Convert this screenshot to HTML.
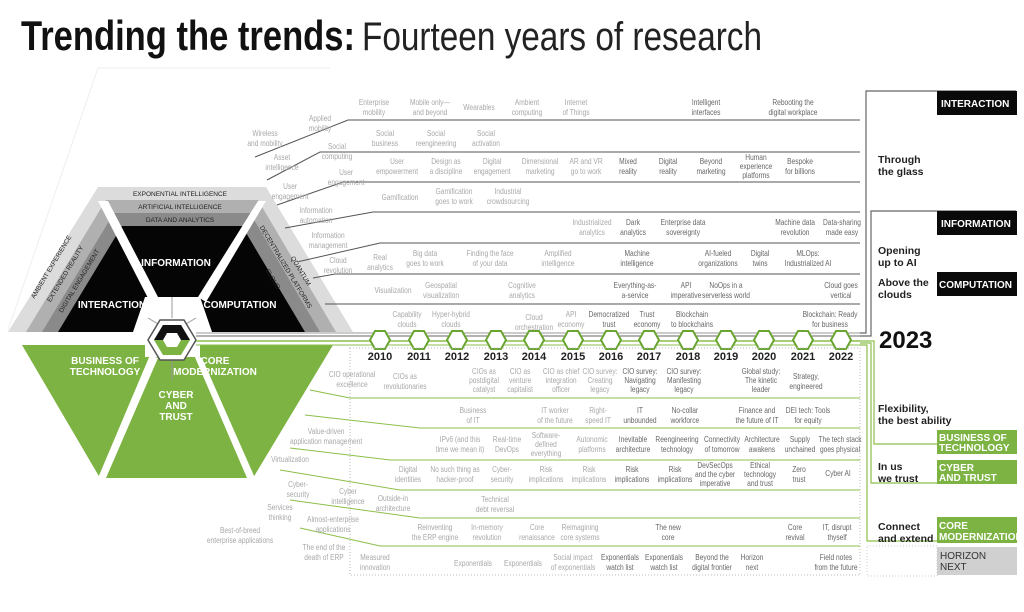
<!DOCTYPE html>
<html><head><meta charset="utf-8"><style>
html,body{margin:0;padding:0;background:#fff;}
svg{display:block;font-family:"Liberation Sans",sans-serif;}
.l,.d{font-size:8.3px;text-anchor:middle;transform-box:fill-box;transform-origin:center;transform:scaleX(0.8);}
.l{fill:#a8a8a8;}
.d{fill:#666;}
.ln{stroke:#555;stroke-width:1;fill:none;}
.gl{stroke:#8cbf4a;stroke-width:1;fill:none;}
.yr{font-weight:bold;font-size:11px;fill:#222;text-anchor:middle;}
.rb{font-weight:bold;font-size:10.5px;fill:#222;}
.bx{font-weight:bold;font-size:10px;fill:#fff;}
.hw{font-weight:bold;font-size:10px;fill:#fff;text-anchor:middle;}
.band{font-size:6.5px;fill:#222;text-anchor:middle;}
</style></head><body>
<svg width="1024" height="612" viewBox="0 0 1024 612" xmlns="http://www.w3.org/2000/svg">
<rect width="1024" height="612" fill="#fff"/>
<text x="21" y="50" font-weight="bold" font-size="42" fill="#111" textLength="334" lengthAdjust="spacingAndGlyphs">Trending the trends:</text>
<text x="362" y="50" font-size="40" fill="#222" textLength="400" lengthAdjust="spacingAndGlyphs">Fourteen years of research</text>
<polyline points="8,330 98,68 330,68" fill="none" stroke="#eee" stroke-width="1"/>

<polygon points="8,332 98,187 266,187 353,332" fill="#dcdcdc"/>
<polygon points="26,332 106,200 258,200 336,332" fill="#b0b0b0"/>
<polygon points="42,332 114,213 250,213 320,332" fill="#8a8a8a"/>
<polygon points="58,332 122,226 242,226 305,332" fill="#050505"/>
<polygon points="98,201 108,201 158,297 150,302" fill="#fff"/>
<polygon points="258,201 266,201 206,302 198,297" fill="#fff"/>
<polygon points="145,297 200,297 212,332 133,332" fill="#fff"/>
<line x1="172" y1="297" x2="172" y2="318" stroke="#999" stroke-width="1"/>
<line x1="148" y1="318" x2="158" y2="324" stroke="#999"/>
<line x1="196" y1="318" x2="186" y2="324" stroke="#999"/>
<text class="band" x="180" y="196">EXPONENTIAL INTELLIGENCE</text>
<text class="band" x="180" y="209">ARTIFICIAL INTELLIGENCE</text>
<text class="band" x="180" y="222">DATA AND ANALYTICS</text>
<text class="band" transform="translate(53,268) rotate(-59)">AMBIENT EXPERIENCE</text>
<text class="band" transform="translate(67,275) rotate(-59)">EXTENDED REALITY</text>
<text class="band" transform="translate(81,282) rotate(-59)">DIGITAL ENGAGEMENT</text>
<text class="band" transform="translate(299,272) rotate(59)">QUANTUM</text>
<text class="band" transform="translate(284,268) rotate(59)">DECENTRALIZED PLATFORMS</text>
<text class="band" transform="translate(271,280) rotate(59)">CLOUD</text>
<text class="hw" x="176" y="266">INFORMATION</text>
<text class="hw" x="112" y="308">INTERACTION</text>
<text class="hw" x="240" y="308">COMPUTATION</text>
<polygon points="22,345 333,345 253,478 100,478" fill="#7cb342"/>
<polygon points="150,355 158,358 106,478 98,478" fill="#fff"/>
<polygon points="194,355 202,358 255,478 247,478" fill="#fff"/>
<polygon points="145,345 200,345 200,357 145,357" fill="#fff"/>
<line x1="172" y1="360" x2="172" y2="380" stroke="#999"/>
<text class="hw" x="105" y="364">BUSINESS OF</text><text class="hw" x="105" y="375">TECHNOLOGY</text>
<text class="hw" x="215" y="364" text-anchor="start">CORE</text><text class="hw" x="215" y="375" text-anchor="start">MODERNIZATION</text>
<text class="hw" x="176" y="398">CYBER</text><text class="hw" x="176" y="409">AND</text><text class="hw" x="176" y="420">TRUST</text>
<polygon points="160,320 184,320 196,340 184,360 160,360 148,340" fill="#fff" stroke="#555" stroke-width="1.5"/>
<polygon points="163,325 181,325 190,340 181,355 163,355 154,340" fill="#7cb342"/>
<polygon points="163,325 181,325 190,340 154,340" fill="#111"/>
<polygon points="167,333 177,333 181,340 177,347 167,347 163,340" fill="#fff"/>

<line x1="196" y1="333" x2="860" y2="333" stroke="#999" stroke-width="1"/>
<line x1="196" y1="336" x2="860" y2="336" stroke="#666" stroke-width="1"/>
<line x1="196" y1="341" x2="860" y2="341" stroke="#8cbf4a" stroke-width="1.5"/>
<line x1="196" y1="345" x2="860" y2="345" stroke="#8cbf4a" stroke-width="1"/>
<g fill="#fff" stroke="#6aa531" stroke-width="2">
<polygon points="375,331 385,331 390,340 385,349 375,349 370,340"/>
<polygon points="414,331 424,331 429,340 424,349 414,349 409,340"/>
<polygon points="452,331 462,331 467,340 462,349 452,349 447,340"/>
<polygon points="491,331 501,331 506,340 501,349 491,349 486,340"/>
<polygon points="529,331 539,331 544,340 539,349 529,349 524,340"/>
<polygon points="568,331 578,331 583,340 578,349 568,349 563,340"/>
<polygon points="606,331 616,331 621,340 616,349 606,349 601,340"/>
<polygon points="644,331 654,331 659,340 654,349 644,349 639,340"/>
<polygon points="683,331 693,331 698,340 693,349 683,349 678,340"/>
<polygon points="721,331 731,331 736,340 731,349 721,349 716,340"/>
<polygon points="759,331 769,331 774,340 769,349 759,349 754,340"/>
<polygon points="798,331 808,331 813,340 808,349 798,349 793,340"/>
<polygon points="836,331 846,331 851,340 846,349 836,349 831,340"/>
</g>
<text class="yr" x="380" y="360">2010</text><text class="yr" x="419" y="360">2011</text><text class="yr" x="457" y="360">2012</text><text class="yr" x="496" y="360">2013</text><text class="yr" x="534" y="360">2014</text><text class="yr" x="573" y="360">2015</text><text class="yr" x="611" y="360">2016</text><text class="yr" x="649" y="360">2017</text><text class="yr" x="688" y="360">2018</text><text class="yr" x="726" y="360">2019</text><text class="yr" x="764" y="360">2020</text><text class="yr" x="803" y="360">2021</text><text class="yr" x="841" y="360">2022</text>

<polyline class="ln" points="255,157 348,120 860,120"/>
<polyline class="ln" points="267,180 320,152 860,152"/>
<polyline class="ln" points="277,205 343,182 860,182"/>
<polyline class="ln" points="285,228 373,212 860,212"/>
<polyline class="ln" points="297,262 380,243 860,243"/>
<polyline class="ln" points="313,278 335,274 860,274"/>
<polyline class="ln" points="325,304 860,304"/>
<rect x="350" y="348" width="510" height="227" fill="none" stroke="#bbb" stroke-dasharray="1,2"/>
<polyline class="gl" points="310,390 350,398 860,398"/>
<polyline class="gl" points="305,415 420,428 860,428"/>
<polyline class="gl" points="290,448 390,460 860,460"/>
<polyline class="gl" points="280,470 400,490 860,490"/>
<polyline class="gl" points="290,500 420,518 860,518"/>
<polyline class="gl" points="300,528 380,546 860,546"/>

<text class="l" x="320" y="121">Applied<tspan x="320" dy="10">mobility</tspan></text>
<text class="l" x="374" y="105">Enterprise<tspan x="374" dy="10">mobility</tspan></text>
<text class="l" x="430" y="105">Mobile only—<tspan x="430" dy="10">and beyond</tspan></text>
<text class="l" x="479" y="110">Wearables</text>
<text class="l" x="527" y="105">Ambient<tspan x="527" dy="10">computing</tspan></text>
<text class="l" x="576" y="105">Internet<tspan x="576" dy="10">of Things</tspan></text>
<text class="d" x="706" y="105">Intelligent<tspan x="706" dy="10">interfaces</tspan></text>
<text class="d" x="793" y="105">Rebooting the<tspan x="793" dy="10">digital workplace</tspan></text>
<text class="l" x="265" y="136">Wireless<tspan x="265" dy="10">and mobility</tspan></text>
<text class="l" x="337" y="149">Social<tspan x="337" dy="10">computing</tspan></text>
<text class="l" x="385" y="136">Social<tspan x="385" dy="10">business</tspan></text>
<text class="l" x="436" y="136">Social<tspan x="436" dy="10">reengineering</tspan></text>
<text class="l" x="486" y="136">Social<tspan x="486" dy="10">activation</tspan></text>
<text class="l" x="282" y="160">Asset<tspan x="282" dy="10">intelligence</tspan></text>
<text class="l" x="346" y="175">User<tspan x="346" dy="10">engagement</tspan></text>
<text class="l" x="397" y="164">User<tspan x="397" dy="10">empowerment</tspan></text>
<text class="l" x="446" y="164">Design as<tspan x="446" dy="10">a discipline</tspan></text>
<text class="l" x="492" y="164">Digital<tspan x="492" dy="10">engagement</tspan></text>
<text class="l" x="540" y="164">Dimensional<tspan x="540" dy="10">marketing</tspan></text>
<text class="l" x="586" y="164">AR and VR<tspan x="586" dy="10">go to work</tspan></text>
<text class="d" x="628" y="164">Mixed<tspan x="628" dy="10">reality</tspan></text>
<text class="d" x="668" y="164">Digital<tspan x="668" dy="10">reality</tspan></text>
<text class="d" x="711" y="164">Beyond<tspan x="711" dy="10">marketing</tspan></text>
<text class="d" x="756" y="160">Human<tspan x="756" dy="9">experience</tspan><tspan x="756" dy="9">platforms</tspan></text>
<text class="d" x="800" y="164">Bespoke<tspan x="800" dy="10">for billions</tspan></text>
<text class="l" x="290" y="189">User<tspan x="290" dy="10">engagement</tspan></text>
<text class="l" x="400" y="200">Gamification</text>
<text class="l" x="454" y="194">Gamification<tspan x="454" dy="10">goes to work</tspan></text>
<text class="l" x="508" y="194">Industrial<tspan x="508" dy="10">crowdsourcing</tspan></text>
<text class="l" x="316" y="213">Information<tspan x="316" dy="10">automation</tspan></text>
<text class="l" x="592" y="225">Industrialized<tspan x="592" dy="10">analytics</tspan></text>
<text class="d" x="633" y="225">Dark<tspan x="633" dy="10">analytics</tspan></text>
<text class="d" x="683" y="225">Enterprise data<tspan x="683" dy="10">sovereignty</tspan></text>
<text class="d" x="795" y="225">Machine data<tspan x="795" dy="10">revolution</tspan></text>
<text class="d" x="842" y="225">Data-sharing<tspan x="842" dy="10">made easy</tspan></text>
<text class="l" x="328" y="238">Information<tspan x="328" dy="10">management</tspan></text>
<text class="l" x="338" y="263">Cloud<tspan x="338" dy="10">revolution</tspan></text>
<text class="l" x="380" y="260">Real<tspan x="380" dy="10">analytics</tspan></text>
<text class="l" x="425" y="256">Big data<tspan x="425" dy="10">goes to work</tspan></text>
<text class="l" x="490" y="256">Finding the face<tspan x="490" dy="10">of your data</tspan></text>
<text class="l" x="558" y="256">Amplified<tspan x="558" dy="10">intelligence</tspan></text>
<text class="d" x="637" y="256">Machine<tspan x="637" dy="10">intelligence</tspan></text>
<text class="d" x="718" y="256">AI-fueled<tspan x="718" dy="10">organizations</tspan></text>
<text class="d" x="760" y="256">Digital<tspan x="760" dy="10">twins</tspan></text>
<text class="d" x="808" y="256">MLOps:<tspan x="808" dy="10">Industrialized AI</tspan></text>
<text class="l" x="393" y="293">Visualization</text>
<text class="l" x="441" y="288">Geospatial<tspan x="441" dy="10">visualization</tspan></text>
<text class="l" x="522" y="288">Cognitive<tspan x="522" dy="10">analytics</tspan></text>
<text class="d" x="635" y="288">Everything-as-<tspan x="635" dy="10">a-service</tspan></text>
<text class="d" x="686" y="288">API<tspan x="686" dy="10">imperative</tspan></text>
<text class="d" x="726" y="288">NoOps in a<tspan x="726" dy="10">serverless world</tspan></text>
<text class="d" x="841" y="288">Cloud goes<tspan x="841" dy="10">vertical</tspan></text>
<text class="l" x="407" y="317">Capability<tspan x="407" dy="10">clouds</tspan></text>
<text class="l" x="451" y="317">Hyper-hybrid<tspan x="451" dy="10">clouds</tspan></text>
<text class="l" x="534" y="320">Cloud<tspan x="534" dy="10">orchestration</tspan></text>
<text class="l" x="571" y="317">API<tspan x="571" dy="10">economy</tspan></text>
<text class="d" x="609" y="317">Democratized<tspan x="609" dy="10">trust</tspan></text>
<text class="d" x="647" y="317">Trust<tspan x="647" dy="10">economy</tspan></text>
<text class="d" x="692" y="317">Blockchain<tspan x="692" dy="10">to blockchains</tspan></text>
<text class="d" x="830" y="317">Blockchain: Ready<tspan x="830" dy="10">for business</tspan></text>

<text class="l" x="352" y="377">CIO operational<tspan x="352" dy="10">excellence</tspan></text>
<text class="l" x="405" y="379">CIOs as<tspan x="405" dy="10">revolutionaries</tspan></text>
<text class="l" x="484" y="374">CIOs as<tspan x="484" dy="9">postdigital</tspan><tspan x="484" dy="9">catalyst</tspan></text>
<text class="l" x="520" y="374">CIO as<tspan x="520" dy="9">venture</tspan><tspan x="520" dy="9">capitalist</tspan></text>
<text class="l" x="561" y="374">CIO as chief<tspan x="561" dy="9">integration</tspan><tspan x="561" dy="9">officer</tspan></text>
<text class="l" x="600" y="374">CIO survey:<tspan x="600" dy="9">Creating</tspan><tspan x="600" dy="9">legacy</tspan></text>
<text class="d" x="640" y="374">CIO survey:<tspan x="640" dy="9">Navigating</tspan><tspan x="640" dy="9">legacy</tspan></text>
<text class="d" x="684" y="374">CIO survey:<tspan x="684" dy="9">Manifesting</tspan><tspan x="684" dy="9">legacy</tspan></text>
<text class="d" x="761" y="374">Global study:<tspan x="761" dy="9">The kinetic</tspan><tspan x="761" dy="9">leader</tspan></text>
<text class="d" x="806" y="379">Strategy,<tspan x="806" dy="10">engineered</tspan></text>
<text class="l" x="473" y="413">Business<tspan x="473" dy="10">of IT</tspan></text>
<text class="l" x="555" y="413">IT worker<tspan x="555" dy="10">of the future</tspan></text>
<text class="l" x="598" y="413">Right-<tspan x="598" dy="10">speed IT</tspan></text>
<text class="d" x="640" y="413">IT<tspan x="640" dy="10">unbounded</tspan></text>
<text class="d" x="685" y="413">No-collar<tspan x="685" dy="10">workforce</tspan></text>
<text class="d" x="757" y="413">Finance and<tspan x="757" dy="10">the future of IT</tspan></text>
<text class="d" x="808" y="413">DEI tech: Tools<tspan x="808" dy="10">for equity</tspan></text>
<text class="l" x="326" y="434">Value-driven<tspan x="326" dy="10">application management</tspan></text>
<text class="l" x="460" y="442">IPv6 (and this<tspan x="460" dy="10">time we mean it)</tspan></text>
<text class="l" x="507" y="442">Real-time<tspan x="507" dy="10">DevOps</tspan></text>
<text class="l" x="546" y="438">Software-<tspan x="546" dy="9">defined</tspan><tspan x="546" dy="9">everything</tspan></text>
<text class="l" x="592" y="442">Autonomic<tspan x="592" dy="10">platforms</tspan></text>
<text class="d" x="633" y="442">Inevitable<tspan x="633" dy="10">architecture</tspan></text>
<text class="d" x="677" y="442">Reengineering<tspan x="677" dy="10">technology</tspan></text>
<text class="d" x="722" y="442">Connectivity<tspan x="722" dy="10">of tomorrow</tspan></text>
<text class="d" x="762" y="442">Architecture<tspan x="762" dy="10">awakens</tspan></text>
<text class="d" x="800" y="442">Supply<tspan x="800" dy="10">unchained</tspan></text>
<text class="d" x="840" y="442">The tech stack<tspan x="840" dy="10">goes physical</tspan></text>
<text class="l" x="290" y="462">Virtualization</text>
<text class="l" x="408" y="472">Digital<tspan x="408" dy="10">identities</tspan></text>
<text class="l" x="455" y="472">No such thing as<tspan x="455" dy="10">hacker-proof</tspan></text>
<text class="l" x="502" y="472">Cyber-<tspan x="502" dy="10">security</tspan></text>
<text class="l" x="546" y="472">Risk<tspan x="546" dy="10">implications</tspan></text>
<text class="l" x="589" y="472">Risk<tspan x="589" dy="10">implications</tspan></text>
<text class="d" x="632" y="472">Risk<tspan x="632" dy="10">implications</tspan></text>
<text class="d" x="675" y="472">Risk<tspan x="675" dy="10">implications</tspan></text>
<text class="d" x="715" y="468">DevSecOps<tspan x="715" dy="9">and the cyber</tspan><tspan x="715" dy="9">imperative</tspan></text>
<text class="d" x="760" y="468">Ethical<tspan x="760" dy="9">technology</tspan><tspan x="760" dy="9">and trust</tspan></text>
<text class="d" x="799" y="472">Zero<tspan x="799" dy="10">trust</tspan></text>
<text class="d" x="838" y="476">Cyber AI</text>
<text class="l" x="298" y="487">Cyber-<tspan x="298" dy="10">security</tspan></text>
<text class="l" x="348" y="494">Cyber<tspan x="348" dy="10">intelligence</tspan></text>
<text class="l" x="393" y="501">Outside-in<tspan x="393" dy="10">architecture</tspan></text>
<text class="l" x="495" y="502">Technical<tspan x="495" dy="10">debt reversal</tspan></text>
<text class="l" x="280" y="510">Services<tspan x="280" dy="10">thinking</tspan></text>
<text class="l" x="333" y="522">Almost-enterprise<tspan x="333" dy="10">applications</tspan></text>
<text class="l" x="240" y="533">Best-of-breed<tspan x="240" dy="10">enterprise applications</tspan></text>
<text class="l" x="435" y="530">Reinventing<tspan x="435" dy="10">the ERP engine</tspan></text>
<text class="l" x="487" y="530">In-memory<tspan x="487" dy="10">revolution</tspan></text>
<text class="l" x="537" y="530">Core<tspan x="537" dy="10">renaissance</tspan></text>
<text class="l" x="580" y="530">Reimagining<tspan x="580" dy="10">core systems</tspan></text>
<text class="d" x="668" y="530">The new<tspan x="668" dy="10">core</tspan></text>
<text class="d" x="795" y="530">Core<tspan x="795" dy="10">revival</tspan></text>
<text class="d" x="837" y="530">IT, disrupt<tspan x="837" dy="10">thyself</tspan></text>
<text class="l" x="324" y="550">The end of the<tspan x="324" dy="10">death of ERP</tspan></text>
<text class="l" x="375" y="560">Measured<tspan x="375" dy="10">innovation</tspan></text>
<text class="l" x="473" y="566">Exponentials</text>
<text class="l" x="523" y="566">Exponentials</text>
<text class="l" x="573" y="560">Social impact<tspan x="573" dy="10">of exponentials</tspan></text>
<text class="d" x="620" y="560">Exponentials<tspan x="620" dy="10">watch list</tspan></text>
<text class="d" x="664" y="560">Exponentials<tspan x="664" dy="10">watch list</tspan></text>
<text class="d" x="712" y="560">Beyond the<tspan x="712" dy="10">digital frontier</tspan></text>
<text class="d" x="752" y="560">Horizon<tspan x="752" dy="10">next</tspan></text>
<text class="d" x="836" y="560">Field notes<tspan x="836" dy="10">from the future</tspan></text>

<polyline points="860,333 866,333 866,91 1016,91" fill="none" stroke="#666" stroke-width="1.2"/>
<polyline points="860,336 871,336 871,211 1016,211" fill="none" stroke="#666" stroke-width="1.2"/>
<polyline points="860,341 874,341 874,444 937,444" fill="none" stroke="#8cbf4a" stroke-width="1.2"/>
<polyline points="860,343 871,343 871,483 937,483" fill="none" stroke="#8cbf4a" stroke-width="1.2"/>
<polyline points="860,345 867,345 867,541 937,541" fill="none" stroke="#8cbf4a" stroke-width="1.2"/>
<rect x="867" y="546" width="70" height="30" fill="none" stroke="#ccc" stroke-dasharray="1,2"/>
<rect x="937" y="91" width="80" height="24" fill="#0a0a0a"/><text class="bx" x="941" y="107">INTERACTION</text>
<rect x="937" y="211" width="80" height="24" fill="#0a0a0a"/><text class="bx" x="941" y="227">INFORMATION</text>
<rect x="937" y="272" width="80" height="24" fill="#0a0a0a"/><text class="bx" x="939" y="288">COMPUTATION</text>
<rect x="937" y="430" width="80" height="24" fill="#7cb342"/><text class="bx" x="939" y="441">BUSINESS OF</text><text class="bx" x="939" y="451">TECHNOLOGY</text>
<rect x="937" y="460" width="80" height="24" fill="#7cb342"/><text class="bx" x="939" y="471">CYBER</text><text class="bx" x="939" y="481">AND TRUST</text>
<rect x="937" y="517" width="80" height="26" fill="#7cb342"/><text class="bx" x="939" y="529">CORE</text><text class="bx" x="939" y="540">MODERNIZATION</text>
<rect x="937" y="547" width="80" height="28" fill="#d0d0d0"/><text class="bx" x="940" y="559" style="fill:#333;font-weight:normal">HORIZON</text><text class="bx" x="940" y="570" style="fill:#333;font-weight:normal">NEXT</text>
<text class="rb" x="878" y="163">Through<tspan x="878" dy="12">the glass</tspan></text>
<text class="rb" x="878" y="254">Opening<tspan x="878" dy="12">up to AI</tspan></text>
<text class="rb" x="878" y="286">Above the<tspan x="878" dy="12">clouds</tspan></text>
<text x="879" y="348" font-weight="bold" font-size="24" fill="#111">2023</text>
<text class="rb" x="878" y="412">Flexibility,<tspan x="878" dy="12">the best ability</tspan></text>
<text class="rb" x="878" y="470">In us<tspan x="878" dy="12">we trust</tspan></text>
<text class="rb" x="878" y="530">Connect<tspan x="878" dy="12">and extend</tspan></text>
</svg>
</body></html>
